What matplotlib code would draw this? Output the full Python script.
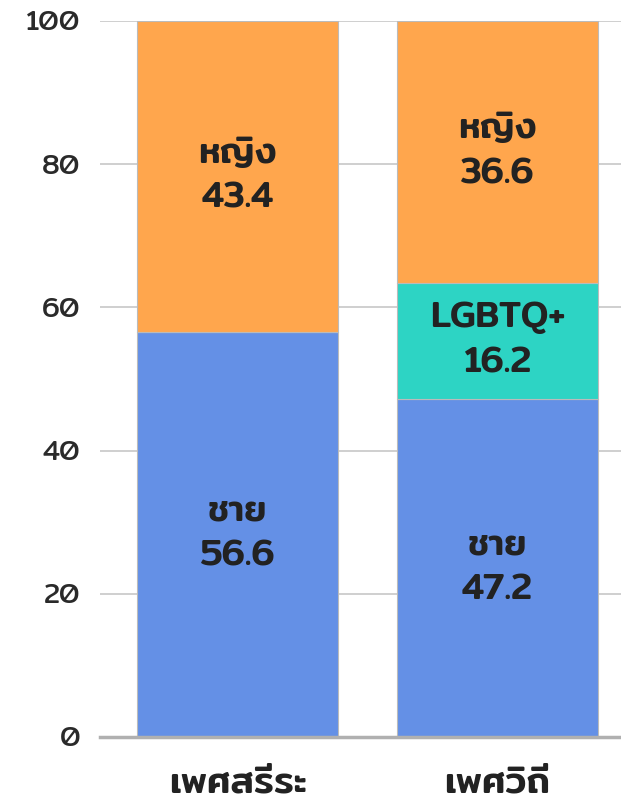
import numpy as np
import matplotlib.pyplot as plt

plt.rcParams['font.family'] = ['Mitr', 'Kanit', 'DejaVu Sans']

categories = ['เพศสรีระ', 'เพศวิถี']
series_names = ['ชาย', 'LGBTQ+', 'หญิง']
male = [56.6, 47.2]
lgbtq = [0.0, 16.2]
female = [43.4, 36.6]
colors = ['#6490E6', '#2DD4C4', '#FFA64D']
yticks = [0, 20, 40, 60, 80, 100]

fig = plt.figure(figsize=(6.21, 8.01), dpi=100)
ax = fig.add_axes([100/621, 1-737/801, 1-100/621, (737-21)/801])

x = np.arange(len(categories))
bottom = np.zeros(len(categories))
for name, vals, c in zip(series_names, [male, lgbtq, female], colors):
    vals = np.array(vals)
    ax.bar(x, vals, width=0.773, bottom=bottom, color=c, edgecolor='#bbbbbb', linewidth=0.8, zorder=2)
    for xi, b, v in zip(x, bottom, vals):
        if v > 0:
            ax.text(xi, b + v/2, f'{name}\n{v:.1f}', ha='center', va='center',
                    fontsize=26, fontweight='medium', color='#222222',
                    linespacing=1.5, zorder=3)
    bottom += vals

ax.set_xlim(-0.529, 1.475)
ax.set_ylim(0, 100)
ax.set_yticks(yticks)
ax.set_yticklabels([str(t) for t in yticks], fontsize=20, fontweight='normal', color='#2a2a2a')
ax.set_xticks(x)
ax.set_xticklabels(categories, fontsize=27, fontweight='medium', color='#222222')
ax.tick_params(axis='y', length=0, pad=14)
ax.tick_params(axis='x', length=0, pad=21)
ax.grid(axis='y', color='#cccccc', linewidth=1.3, zorder=0)
ax.set_axisbelow(True)
for s in ['top', 'right', 'left']:
    ax.spines[s].set_visible(False)
ax.spines['bottom'].set_color('#b0b0b0')
ax.spines['bottom'].set_linewidth(2.5)
ax.spines['bottom'].set_zorder(4)

fig.savefig('out.png', dpi=100)
